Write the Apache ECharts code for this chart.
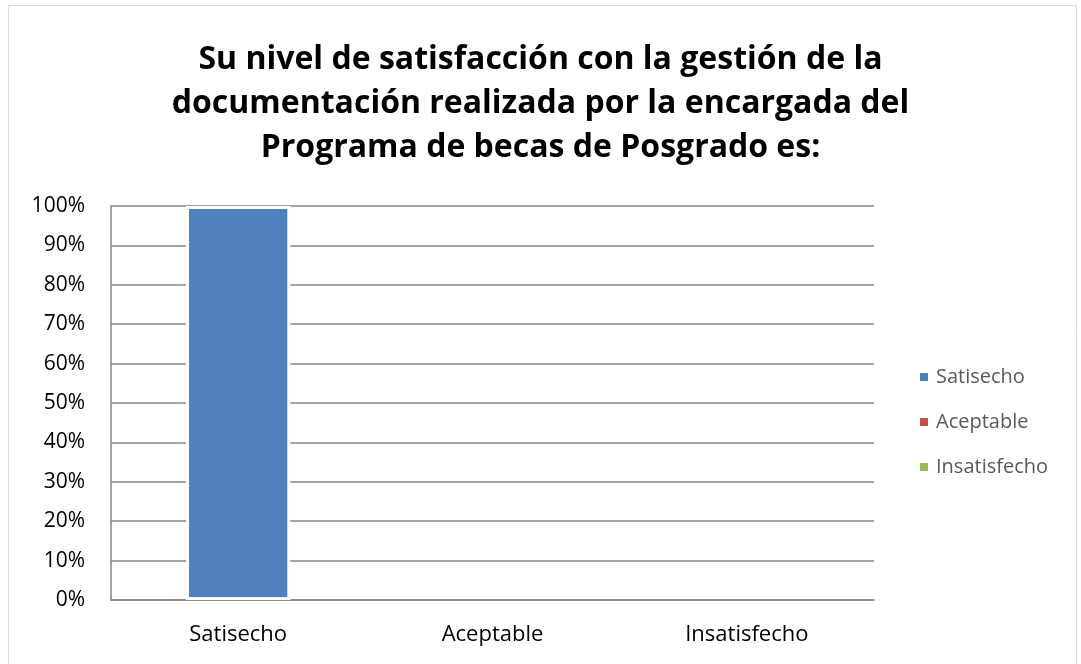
<!DOCTYPE html>
<html>
<head>
<meta charset="utf-8">
<script src="https://cdn.jsdelivr.net/npm/echarts@6/dist/echarts.min.js"></script>
<style>
    html, body { margin: 0; padding: 0; background: #fff; }
    #main { width: 1081px; height: 664px; }
</style>
</head>
<body>
<div id="main"></div>
<script>
    // datos
    const categorias = ['Satisecho', 'Aceptable', 'Insatisfecho']
    const porcentajes = [100, 0, 0]
    const colores = ['#4F81BD', '#C0504D', '#9BBB59']
    const titulo = 'Su nivel de satisfacción con la gestión de la\ndocumentación realizada por la encargada del\nPrograma de becas de Posgrado es:'

    let chart = echarts.init(document.getElementById('main'))

    // una serie por categoría, apiladas para que la barra quede centrada
    let series = categorias.map(function (nombre, i) {
        return {
            name: nombre,
            type: 'bar',
            stack: 'total',
            barWidth: '41%',
            itemStyle: { color: colores[i], borderColor: '#fff' },
            data: categorias.map(function (c, j) {
                if (j !== i) return null
                // sin borde en barras de 0% para no tapar el eje
                return { value: porcentajes[i], itemStyle: { borderWidth: porcentajes[i] > 0 ? 3 : 0 } }
            })
        }
    })

    chart.setOption({
        animation: false,
        textStyle: { fontFamily: 'Open Sans' },
        title: {
            text: titulo,
            left: 'center',
            top: 33,
            textStyle: { fontSize: 32, fontWeight: 'bold', color: '#000', lineHeight: 44, fontFamily: 'Open Sans' }
        },
        graphic: [{
            type: 'rect',
            shape: { x: 8.5, y: 5.5, width: 1068, height: 670 },
            style: { fill: 'none', stroke: '#d9d9d9', lineWidth: 1 },
            silent: true
        }],
        legend: {
            orient: 'vertical',
            left: 915,
            top: 362,
            itemGap: 25,
            itemWidth: 8,
            itemHeight: 8,
            icon: 'rect',
            textStyle: { fontSize: 20, color: '#595959', padding: [0, 0, 0, 3] },
            data: categorias
        },
        grid: { left: 111, right: 207, top: 206, bottom: 64, containLabel: false },
        xAxis: {
            type: 'category',
            data: categorias,
            axisTick: { show: false },
            axisLine: { lineStyle: { color: '#868686', width: 1.5 } },
            axisLabel: { fontSize: 22, color: '#000', margin: 24 }
        },
        yAxis: {
            type: 'value',
            min: 0,
            max: 100,
            interval: 10,
            axisLine: { show: true, lineStyle: { color: '#868686', width: 1.5 } },
            axisTick: { show: false },
            splitLine: { lineStyle: { color: '#868686', width: 1.5 } },
            axisLabel: { fontSize: 21, color: '#000', margin: 26, formatter: '{value}%' }
        },
        series: series
    })
</script>
</body>
</html>
